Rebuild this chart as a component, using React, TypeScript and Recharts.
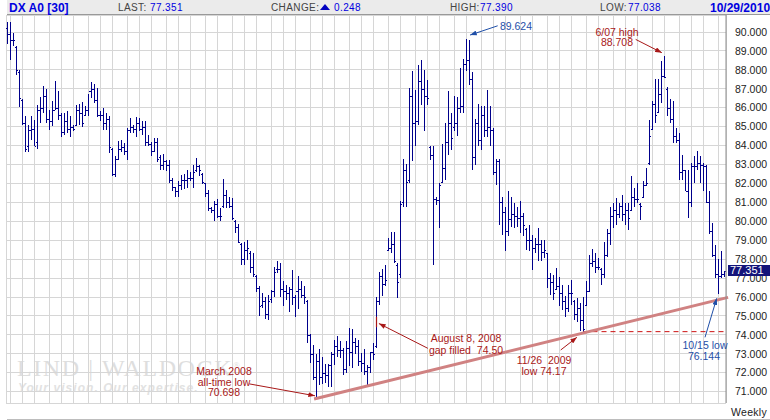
import * as React from "react";
import { Bar, CartesianGrid, ComposedChart, ReferenceLine, XAxis, YAxis } from "recharts";

const HIGHS = [
  90.53, 90.53, 89.95, 89.28, 88.01, 86.46, 85.58, 85.10, 85.58, 85.37, 86.16, 86.56, 87.16, 86.99, 85.86, 86.33, 87.43, 86.86, 85.72, 85.72,
  85.81, 85.58, 85.10, 86.16, 86.21, 86.28, 86.11, 86.74, 87.36, 87.27, 87.04, 85.81, 85.98, 85.72, 85.54, 83.87, 83.43, 84.22, 84.31, 84.13,
  84.93, 85.45, 85.10, 85.51, 85.45, 85.28, 85.28, 84.57, 84.17, 84.40, 84.40, 83.52, 83.57, 83.25, 83.25, 82.28, 81.79, 82.11, 82.46, 82.51,
  82.69, 82.63, 82.99, 83.34, 82.95, 82.55, 82.02, 81.67, 80.75, 81.05, 81.17, 80.70, 82.25, 81.67, 81.31, 81.22, 80.08, 79.87, 78.85, 78.93,
  78.99, 78.41, 78.32, 77.17, 76.59, 76.20, 75.99, 76.11, 76.38, 77.61, 77.91, 77.79, 76.82, 76.64, 76.55, 77.44, 76.11, 77.12, 76.82, 76.59,
  75.82, 74.05, 73.47, 72.99, 73.24, 72.85, 72.47, 72.47, 73.07, 73.74, 73.92, 73.65, 73.30, 73.65, 74.35, 74.30, 73.82, 73.74, 73.03, 73.24,
  72.41, 73.12, 73.59, 75.99, 77.31, 77.47, 77.70, 79.11, 79.46, 79.46, 77.79, 81.05, 83.29, 83.04, 87.04, 87.96, 86.92, 88.24, 88.54, 88.01,
  87.48, 83.96, 83.96, 81.31, 82.02, 84.10, 85.19, 86.90, 85.72, 86.60, 86.56, 88.10, 88.57, 89.62, 89.56, 87.87, 85.40, 86.21, 86.11, 86.11,
  86.95, 86.11, 84.93, 83.29, 83.29, 81.31, 80.78, 81.58, 81.31, 80.96, 80.78, 81.05, 80.43, 79.64, 79.81, 79.29, 79.11, 79.64, 79.02, 79.02,
  78.32, 77.26, 77.17, 77.52, 77.08, 76.64, 76.03, 76.64, 76.90, 75.85, 75.94, 75.67, 75.99, 76.82, 78.23, 78.53, 78.32, 78.05, 77.52, 78.90,
  79.59, 80.78, 80.96, 81.22, 80.96, 81.40, 80.96, 80.96, 82.37, 81.75, 82.05, 80.96, 82.14, 82.81, 85.37, 86.37, 87.52, 87.52, 88.45, 88.71,
  87.09, 86.46, 86.37, 84.93, 84.66, 83.52, 82.72, 82.72, 83.07, 83.43, 83.69, 83.43, 83.07, 82.99, 81.58, 79.90, 78.76, 78.01, 78.44, 77.39,
];

const LOWS = [
  89.37, 88.50, 89.28, 87.74, 86.04, 85.10, 83.64, 83.64, 84.31, 83.96, 83.81, 85.22, 85.72, 85.19, 84.80, 85.01, 85.89, 85.37, 84.45, 84.57,
  84.66, 84.48, 84.75, 85.01, 85.10, 84.98, 85.54, 85.54, 86.51, 86.25, 85.51, 85.28, 84.84, 84.84, 83.60, 82.37, 82.33, 83.25, 83.64, 83.52,
  83.25, 84.66, 84.66, 84.48, 84.75, 84.57, 83.99, 83.96, 83.43, 83.66, 83.11, 82.69, 82.69, 82.65, 82.02, 81.58, 81.31, 81.31, 81.63, 81.72,
  81.75, 82.11, 81.75, 82.63, 82.37, 81.98, 81.31, 80.52, 80.43, 80.04, 80.17, 79.99, 80.70, 80.70, 80.70, 80.08, 79.38, 78.85, 77.70, 77.70,
  77.96, 77.26, 77.08, 76.29, 75.00, 75.41, 74.83, 74.79, 75.67, 75.99, 77.26, 75.99, 75.50, 75.85, 75.23, 75.59, 74.93, 75.36, 75.94, 75.64,
  73.59, 72.50, 71.62, 70.70, 71.36, 71.41, 71.45, 71.27, 71.24, 72.41, 72.85, 72.77, 71.89, 71.97, 72.36, 72.24, 72.99, 72.33, 72.06, 71.89,
  71.36, 71.97, 72.68, 73.30, 75.59, 76.06, 76.59, 78.41, 78.32, 77.79, 75.94, 77.00, 80.78, 80.78, 82.02, 83.16, 83.96, 85.10, 86.16, 84.75,
  86.16, 83.25, 77.70, 80.87, 79.64, 82.02, 82.19, 83.52, 83.78, 84.75, 84.52, 85.72, 85.72, 87.92, 87.22, 82.72, 82.99, 83.96, 83.78, 84.48,
  84.48, 83.96, 82.46, 81.93, 79.81, 79.29, 78.41, 79.20, 79.72, 79.64, 79.72, 79.38, 79.20, 78.49, 78.41, 77.44, 78.32, 77.88, 77.88, 78.06,
  76.47, 76.11, 75.85, 76.38, 75.50, 75.32, 74.97, 75.23, 75.59, 74.79, 74.70, 74.23, 74.17, 75.50, 76.29, 77.61, 77.26, 77.44, 76.64, 77.00,
  78.14, 78.76, 79.64, 79.81, 80.17, 79.99, 79.81, 79.55, 80.52, 80.78, 80.96, 80.08, 81.22, 81.84, 82.99, 84.84, 85.19, 85.72, 86.25, 87.57,
  85.54, 85.19, 84.13, 84.13, 82.19, 82.19, 81.58, 80.17, 80.78, 82.02, 82.72, 82.02, 81.58, 80.96, 79.34, 78.14, 77.00, 76.14, 77.00, 77.04,
];

const OPENS = [
  90.2, 89.9, 89.6, 89.2, 87.9, 86.4, 85.2, 84.0, 84.8, 84.9, 84.2, 85.9, 86.0, 86.6, 85.4, 85.3, 85.9, 86.0, 85.6, 84.7,
  85.3, 84.9, 85.0, 85.1, 85.9, 85.7, 85.6, 85.9, 86.9, 87.0, 86.4, 85.6, 85.6, 85.2, 85.4, 83.8, 82.5, 83.3, 83.8, 83.9,
  83.7, 84.8, 85.0, 84.9, 85.2, 84.9, 85.0, 84.2, 84.1, 83.7, 84.2, 83.4, 83.0, 83.2, 83.0, 82.2, 81.8, 81.6, 81.9, 82.2,
  82.2, 82.3, 82.3, 82.7, 82.9, 82.5, 82.0, 81.5, 80.7, 80.6, 80.9, 80.3, 80.8, 81.4, 81.0, 80.8, 80.0, 79.7, 78.8, 78.0,
  78.5, 78.3, 77.6, 77.1, 76.5, 75.6, 75.8, 75.1, 75.9, 76.3, 77.5, 77.5, 76.4, 76.3, 76.2, 76.4, 76.0, 76.3, 76.4, 76.1,
  75.8, 74.0, 73.0, 71.8, 72.6, 71.8, 72.0, 71.9, 72.4, 73.0, 73.4, 73.2, 73.2, 72.2, 73.3, 73.1, 73.6, 73.4, 72.6, 72.5,
  72.1, 72.3, 73.1, 73.4, 75.8, 77.1, 76.7, 78.5, 78.6, 78.8, 77.7, 77.2, 81.0, 82.7, 82.2, 86.6, 85.2, 85.3, 87.4, 87.0,
  86.6, 83.9, 83.5, 81.2, 81.1, 82.1, 82.8, 84.2, 85.2, 85.0, 85.2, 86.0, 86.1, 88.3, 88.5, 87.5, 83.4, 85.2, 84.3, 85.6,
  84.8, 85.0, 84.8, 82.6, 83.2, 81.0, 80.5, 79.5, 80.1, 80.4, 80.3, 80.2, 80.3, 79.6, 79.0, 79.0, 78.6, 78.8, 78.8, 78.4,
  78.3, 77.0, 76.8, 76.4, 76.6, 76.2, 75.8, 75.4, 76.2, 75.8, 75.1, 75.4, 74.8, 75.6, 76.3, 77.8, 77.9, 77.6, 77.5, 77.2,
  78.2, 79.4, 80.3, 80.6, 80.4, 80.8, 80.4, 80.6, 80.6, 81.3, 81.2, 80.9, 81.3, 81.9, 83.1, 84.9, 86.2, 85.8, 86.7, 87.7,
  87.0, 86.0, 85.4, 84.5, 84.3, 82.6, 82.7, 81.6, 81.0, 82.9, 82.9, 83.1, 83.0, 82.9, 81.0, 79.5, 78.2, 77.2, 77.1, 77.2,
];

const CLOSES = [
  89.9, 89.6, 89.6, 88.0, 86.5, 85.2, 83.8, 84.8, 84.9, 84.0, 85.9, 86.0, 86.6, 85.4, 85.3, 85.9, 86.0, 85.6, 84.7, 85.3,
  84.9, 85.0, 84.9, 85.9, 85.7, 85.2, 85.9, 86.9, 87.0, 86.4, 85.6, 85.6, 85.2, 85.4, 83.9, 82.5, 83.3, 83.8, 83.9, 83.7,
  84.8, 85.0, 84.9, 85.2, 84.9, 85.0, 84.2, 84.1, 83.7, 84.2, 83.3, 83.0, 83.2, 83.0, 82.2, 81.8, 81.6, 81.9, 82.2, 82.2,
  82.3, 82.3, 82.6, 82.9, 82.7, 82.1, 81.5, 80.7, 80.6, 80.9, 80.3, 80.3, 81.4, 81.0, 80.8, 80.2, 79.7, 78.9, 78.0, 78.5,
  78.6, 77.6, 77.2, 76.5, 75.5, 75.8, 75.1, 75.8, 76.3, 77.3, 77.5, 76.4, 76.3, 76.2, 76.4, 76.0, 76.3, 76.4, 76.1, 76.0,
  74.0, 73.0, 71.8, 72.6, 71.8, 72.0, 71.9, 72.4, 73.0, 73.4, 73.2, 73.2, 72.2, 73.3, 73.1, 73.6, 73.4, 72.6, 72.5, 72.1,
  72.3, 73.1, 73.0, 75.8, 77.1, 76.7, 76.9, 78.6, 78.8, 77.9, 76.8, 80.9, 82.7, 82.1, 86.6, 85.2, 85.3, 87.4, 87.0, 86.6,
  86.5, 83.5, 81.2, 81.1, 81.9, 82.8, 84.2, 85.2, 84.4, 85.2, 86.0, 86.1, 88.3, 88.5, 87.5, 83.4, 85.2, 84.3, 85.6, 84.8,
  85.0, 84.8, 82.6, 83.2, 81.0, 80.5, 79.5, 80.1, 80.4, 80.3, 80.2, 80.3, 79.8, 79.0, 79.0, 78.6, 78.8, 78.8, 78.4, 78.5,
  77.0, 76.8, 76.2, 76.6, 76.2, 75.8, 75.4, 76.2, 76.2, 75.1, 75.4, 74.8, 74.3, 76.3, 77.8, 77.9, 77.6, 77.6, 77.2, 78.2,
  79.4, 80.3, 80.6, 80.4, 80.8, 80.4, 80.6, 80.2, 81.3, 81.2, 81.2, 80.8, 81.9, 82.0, 84.5, 86.2, 85.6, 86.7, 87.7, 87.6,
  86.0, 85.4, 84.5, 84.3, 82.6, 82.7, 81.6, 81.0, 82.9, 82.9, 83.1, 83.0, 82.9, 81.0, 79.5, 78.2, 77.2, 77.1, 77.2, 77.351,
];

// weeks that start a month, these carry the vertical grid lines
const GRID_WEEKS = [
  1, 5, 9, 14, 18, 22, 27, 31, 35, 40, 44, 48, 53, 57, 61, 66, 70, 75, 79, 83, 88, 92, 96, 101, 105, 109, 114, 118, 122, 127,
  131, 136, 140, 144, 149, 153, 158, 162, 166, 171, 175, 180, 184, 188, 193, 197, 202, 206, 210, 215, 219, 224, 228, 232, 237,
];
const LABEL_WEEKS = [9, 22, 40, 61, 75, 92, 114, 127, 143, 166, 179, 196, 218, 230];
const LABELS = ["Jun", "Sep", "'07", "Jun", "Sep", "'08", "Jun", "Sep", "'09", "Jun", "Sep", "'10", "Jun", "Sep"];
const PRICE_TICKS = [71, 72, 73, 74, 75, 76, 77, 78, 79, 80, 81, 82, 83, 84, 85, 86, 87, 88, 89, 90];

const data = HIGHS.map((high, i) => ({
  week: i,
  range: [LOWS[i], high],
  high,
  low: LOWS[i],
  open: OPENS[i],
  close: CLOSES[i],
}));

const FONT = "'Liberation Sans', Arial, sans-serif";
const NAVY = "#00008b";
const RED = "#a81818";
const BLUE = "#1f4fa8";
const LINK = "#0000e0";

function OhlcBar(props: any) {
  const { x, y, width, height, payload } = props;
  const top = Math.min(y, y + height);
  const h = Math.abs(height);
  const span = payload.high - payload.low || 1;
  const cx = Math.round(x + width / 2 - 0.5);
  const openY = Math.round(top + ((payload.high - payload.open) / span) * h);
  const closeY = Math.round(top + ((payload.high - payload.close) / span) * h);
  return (
    <g fill={NAVY} shapeRendering="crispEdges">
      <rect x={cx} y={top} width={1} height={h} />
      <rect x={cx - 1} y={openY} width={1} height={1} />
      <rect x={cx + 1} y={closeY} width={1} height={1} />
    </g>
  );
}

function Note({ x, y, color, children }: { x: number; y: number; color: string; children: React.ReactNode }) {
  return (
    <div
      style={{
        position: "absolute", left: x, top: y, transform: "translate(-50%, -50%)",
        color, fontSize: 10.5, lineHeight: "11px", whiteSpace: "pre",
      }}
    >
      {children}
    </div>
  );
}

function Head({ x, color = "#444", bold = false, size = 10, children }: any) {
  return (
    <div
      style={{
        position: "absolute", left: x, top: 1, height: 13, lineHeight: "14px", color,
        fontSize: size, fontWeight: bold ? 700 : 400, letterSpacing: bold ? 0 : 0.4, whiteSpace: "pre",
      }}
    >
      {children}
    </div>
  );
}

function Arrow({ from, to, color, marker }: { from: number[]; to: number[]; color: string; marker: string }) {
  return (
    <ReferenceLine
      xAxisId="notes"
      ifOverflow="visible"
      segment={[{ x: from[0], y: from[1] }, { x: to[0], y: to[1] }]}
      stroke={color}
      strokeWidth={1}
      markerEnd={`url(#${marker})`}
    />
  );
}

export default function App() {
  return (
    <div style={{ position: "absolute", left: 0, top: 0, width: 770, height: 420, overflow: "hidden", background: "#fff", fontFamily: FONT }}>
      {/* watermark sits under the grid */}
      <div style={{ position: "absolute", left: 17, top: 351, color: "#dedede", fontFamily: "'Liberation Serif', serif", fontSize: 24, lineHeight: "28px", letterSpacing: 1.6, whiteSpace: "pre" }}>
        LIND | WALDOCK<span style={{ fontSize: 9, verticalAlign: "8px", letterSpacing: 0 }}>®</span>
      </div>
      <div style={{ position: "absolute", left: 18, top: 380, color: "#e2e2e2", fontSize: 12, lineHeight: "16px", fontStyle: "italic", fontWeight: 700, letterSpacing: 1.05, whiteSpace: "pre" }}>
        Your vision. Our expertise.
      </div>

      <div style={{ position: "absolute", left: 0, top: 0 }}>
        <ComposedChart width={770} height={420} data={data} margin={{ top: 15, right: 0, bottom: 0, left: 6 }}>
          <defs>
            <marker id="head-red" viewBox="0 0 8 6" refX="8" refY="3" markerWidth="7" markerHeight="5" markerUnits="userSpaceOnUse" orient="auto">
              <path d="M0 0L8 3L0 6Z" fill={RED} />
            </marker>
            <marker id="head-blue" viewBox="0 0 8 6" refX="8" refY="3" markerWidth="7" markerHeight="5" markerUnits="userSpaceOnUse" orient="auto">
              <path d="M0 0L8 3L0 6Z" fill={BLUE} />
            </marker>
          </defs>
          <CartesianGrid xAxisId="grid" stroke="#d6d6d6" strokeWidth={1} shapeRendering="crispEdges" />
          <XAxis xAxisId="grid" dataKey="week" type="category" hide ticks={GRID_WEEKS} interval={0} />
          <XAxis xAxisId="notes" dataKey="week" type="number" hide domain={[-0.5, 239.5]} allowDataOverflow />
          <XAxis
            xAxisId="labels"
            dataKey="week"
            type="category"
            ticks={LABEL_WEEKS}
            interval={0}
            height={17}
            minTickGap={0}
            tickLine={false}
            axisLine={{ stroke: "#a8a8a8", strokeWidth: 1.5 }}
            tickMargin={1}
            tick={{ fontSize: 10.5, fill: "#222", letterSpacing: 0.5 }}
            tickFormatter={(w: number) => LABELS[LABEL_WEEKS.indexOf(w)]}
          />
          <YAxis
            orientation="right"
            width={44}
            domain={[70.4, 90.9]}
            allowDataOverflow
            ticks={PRICE_TICKS}
            interval={0}
            tickLine={false}
            axisLine={{ stroke: "#8c8c8c", strokeWidth: 1 }}
            tickMargin={3}
            tick={{ fontSize: 10.5, fill: "#222" }}
            tickFormatter={(v: number) => v.toFixed(3)}
          />
          <Bar xAxisId="grid" dataKey="range" barSize={3} shape={OhlcBar} isAnimationActive={false} />
          <ReferenceLine
            xAxisId="notes"
            ifOverflow="visible"
            segment={[{ x: 192, y: 74.17 }, { x: 239.5, y: 74.17 }]}
            stroke="#cc1111"
            strokeWidth={1}
            strokeDasharray="5 4"
          />
          <ReferenceLine
            xAxisId="notes"
            ifOverflow="visible"
            segment={[{ x: 102.2, y: 70.61 }, { x: 240.2, y: 75.98 }]}
            stroke="#d08282"
            strokeWidth={3}
          />
          <ReferenceLine
            xAxisId="notes"
            ifOverflow="visible"
            segment={[{ x: 123, y: 74.96 }, { x: 123, y: 74.4 }]}
            stroke={RED}
            strokeWidth={1.2}
          />
          {Arrow({ from: [80.6, 71.41], to: [102.5, 70.78], color: RED, marker: "head-red" })}
          {Arrow({ from: [140.1, 73.29], to: [123.8, 74.6], color: RED, marker: "head-red" })}
          {Arrow({ from: [184.4, 73.2], to: [189.8, 73.87], color: RED, marker: "head-red" })}
          {Arrow({ from: [232.5, 73.87], to: [236.4, 75.93], color: BLUE, marker: "head-blue" })}
          {Arrow({ from: [163.4, 90.33], to: [154.2, 89.84], color: BLUE, marker: "head-blue" })}
          {Arrow({ from: [209.4, 89.61], to: [218.1, 88.91], color: RED, marker: "head-red" })}
        </ComposedChart>
      </div>

      {/* header strip */}
      <div style={{ position: "absolute", left: 7, top: 0, right: 0, height: 14, background: "#ebebeb", borderBottom: "1px solid #999" }} />
      <Head x={9} color={LINK} bold size={12}>DX A0 [30]</Head>
      <Head x={118}>LAST:</Head>
      <Head x={150} color={LINK}>77.351</Head>
      <Head x={271}>CHANGE:</Head>
      <div style={{ position: "absolute", left: 320, top: 4, width: 0, height: 0, borderLeft: "5px solid transparent", borderRight: "5px solid transparent", borderBottom: "6px solid #0000c0" }} />
      <Head x={334} color={LINK}>0.248</Head>
      <Head x={450}>HIGH:</Head>
      <Head x={480} color={LINK}>77.390</Head>
      <Head x={600}>LOW:</Head>
      <Head x={628} color={LINK}>77.038</Head>
      <Head x={710} color={LINK} bold size={12}>10/29/2010</Head>

      {/* last price flag */}
      <div style={{ position: "absolute", left: 728, top: 265, width: 42, height: 11, background: "#14147a", color: "#fff", fontSize: 11, lineHeight: "11px", paddingLeft: 2, boxSizing: "border-box", whiteSpace: "pre" }}>
        77.351
      </div>

      <Note x={516} y={26} color={BLUE}>89.624</Note>
      <Note x={617} y={32} color={RED}>6/07 high</Note>
      <Note x={617} y={42} color={RED}>88.708</Note>
      <Note x={224} y={371} color={RED}>March 2008</Note>
      <Note x={224} y={382} color={RED}>all-time low</Note>
      <Note x={224} y={392} color={RED}>70.698</Note>
      <Note x={466} y={338} color={RED}>August 8, 2008</Note>
      <Note x={466} y={350} color={RED}>gap filled  74.50</Note>
      <Note x={544} y={360} color={RED}>11/26  2009</Note>
      <Note x={544} y={371} color={RED}>low 74.17</Note>
      <Note x={705} y={345} color={BLUE}>10/15 low</Note>
      <Note x={704} y={356} color={BLUE}>76.144</Note>

      <div style={{ position: "absolute", left: 731, top: 406, color: "#222", fontSize: 10.5, lineHeight: "13px", letterSpacing: 0.3 }}>Weekly</div>
      <div style={{ position: "absolute", left: 7, right: 0, top: 419, height: 1, background: "#bdbdbd" }} />
    </div>
  );
}
